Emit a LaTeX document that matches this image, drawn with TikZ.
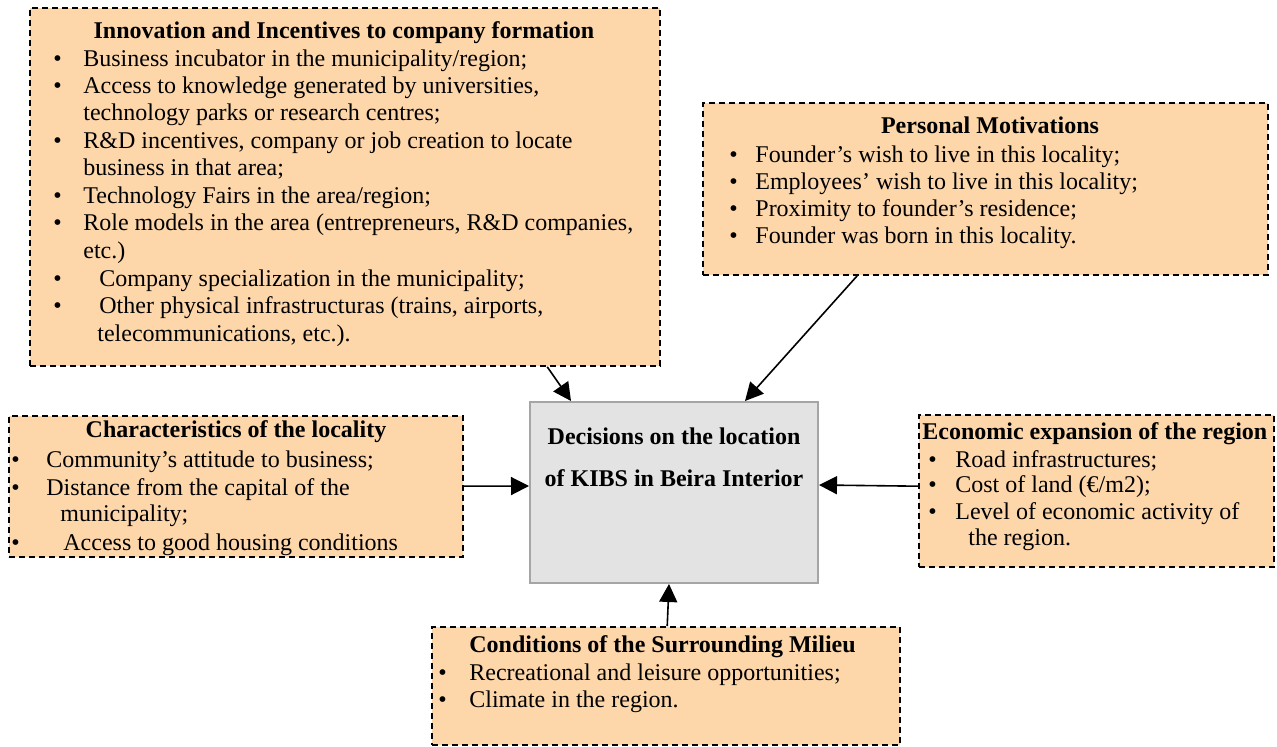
\documentclass[tikz,border=0pt]{standalone}
\usepackage{fontspec}
\setmainfont{Liberation Serif}
\usetikzlibrary{arrows.meta,fit,calc}
\definecolor{peach}{RGB}{253,214,170}
\definecolor{cgray}{RGB}{227,227,227}
\definecolor{cborder}{RGB}{165,165,165}
\newcommand\bi[2]{\makebox[#1][l]{\textbullet}#2}
\begin{document}
\begin{tikzpicture}[x=0.5pt,y=-0.5pt,
  fbox/.style={draw=black, dash pattern=on 3pt off 2pt, line width=0.8pt, fill=peach, inner sep=0pt},
  dbox/.style={draw=cborder, line width=1pt, fill=cgray, inner sep=0pt},
  txt/.style={anchor=base west, inner sep=0pt, font=\fontsize{12}{14}\selectfont},
  ttl/.style={anchor=base, inner sep=0pt, font=\fontsize{12}{14}\selectfont\bfseries},
  ttlw/.style={anchor=base west, inner sep=0pt, font=\fontsize{12}{14}\selectfont\bfseries},
  arr/.style={-{Triangle[length=9pt,width=9pt]}, line width=0.8pt}]
\useasboundingbox (0,0) rectangle (1277,747);

% boxes
\node[fbox, fit={(30,8) (660,366)}] (inno) {};
\node[fbox, fit={(703,103) (1268,275)}] (pers) {};
\node[fbox, fit={(9,416) (463,557)}] (char) {};
\node[fbox, fit={(919,415) (1274,567)}] (econ) {};
\node[fbox, fit={(432,627) (900,745)}] (cond) {};
\node[dbox, fit={(530,402) (818,583)}] (dec) {};

% innovation box
\node[ttl] (i0) at (344,39) {Innovation and Incentives to company formation};
\node[txt] (i1) at (53,67) {\bi{15pt}{Business incubator in the municipality/region;}};
\node[txt] (i2) at (53,94) {\bi{15pt}{Access to knowledge generated by universities,}};
\node[txt] (i3) at (83,121) {technology parks or research centres;};
\node[txt] (i4) at (53,148.5) {\bi{15pt}{R\&D incentives, company or job creation to locate}};
\node[txt] (i5) at (83,176) {business in that area;};
\node[txt] (i6) at (53,203.5) {\bi{15pt}{Technology Fairs in the area/region;}};
\node[txt] (i7) at (53,231) {\bi{15pt}{Role models in the area (entrepreneurs, R\&D companies,}};
\node[txt] (i8) at (83,258.5) {etc.)};
\node[txt] (i9) at (53,286.5) {\bi{23pt}{Company specialization in the municipality;}};
\node[txt] (i10) at (53,314) {\bi{23pt}{Other physical infrastructuras (trains, airports,}};
\node[txt] (i11) at (97,341.5) {telecommunications, etc.).};

% personal box
\node[ttl] (p0) at (990,134) {Personal Motivations};
\node[txt] (p1) at (729,163) {\bi{13pt}{Founder’s wish to live in this locality;}};
\node[txt] (p2) at (729,190) {\bi{13pt}{Employees’ wish to live in this locality;}};
\node[txt] (p3) at (729,217) {\bi{13pt}{Proximity to founder’s residence;}};
\node[txt] (p4) at (729,243.5) {\bi{13pt}{Founder was born in this locality.}};

% characteristics box
\node[ttl] (c0) at (236,438) {Characteristics of the locality};
\node[txt] (c1) at (11,467) {\bi{17.5pt}{Community’s attitude to business;}};
\node[txt] (c2) at (11,495) {\bi{17.5pt}{Distance from the capital of the}};
\node[txt] (c3) at (60,522) {municipality;};
\node[txt] (c4) at (11,550) {\bi{26pt}{Access to good housing conditions}};

% economic box
\node[ttlw] (e0) at (922,440) {Economic expansion of the region};
\node[txt] (e1) at (928,467) {\bi{13.5pt}{Road infrastructures;}};
\node[txt] (e2) at (928,493) {\bi{13.5pt}{Cost of land (€/m2);}};
\node[txt] (e3) at (928,519) {\bi{13.5pt}{Level of economic activity of}};
\node[txt] (e4) at (968,545) {the region.};

% conditions box
\node[ttlw] (k0) at (469,652) {Conditions of the Surrounding Milieu};
\node[txt] (k1) at (438,680) {\bi{15.5pt}{Recreational and leisure opportunities;}};
\node[txt] (k2) at (438,707) {\bi{15.5pt}{Climate in the region.}};

% decision box
\node[ttl] (d1) at (674,445) {Decisions on the location};
\node[ttl] (d2) at (674,487) {of KIBS in Beira Interior};

% arrows
\draw[arr] ($(inno.south west)+(518,0)$) -- ($(dec.north west)+(42,0)$);
\draw[arr] ($(pers.south west)+(155,0)$) -- ($(dec.north west)+(216,0)$);
\draw[arr] ($(char.north east)+(0,71)$) -- ($(dec.north west)+(0,85)$);
\draw[arr] ($(econ.north west)+(0,72)$) -- ($(dec.north east)+(0,84)$);
\draw[arr] ($(cond.north west)+(236,0)$) -- ($(dec.south west)+(140,0)$);
\end{tikzpicture}
\end{document}
